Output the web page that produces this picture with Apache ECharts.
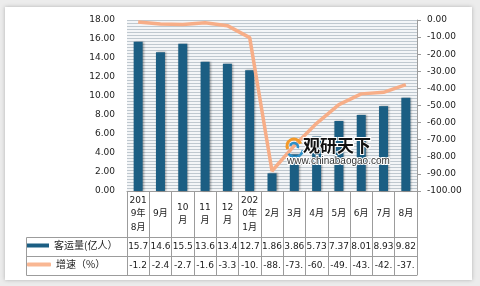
<!DOCTYPE html>
<html><head><meta charset="utf-8">
<script src="https://cdn.jsdelivr.net/npm/echarts@6/dist/echarts.min.js"></script>
<style>
html,body{margin:0;padding:0;background:#ececec;width:480px;height:286px;overflow:hidden}
#card{position:absolute;left:5px;top:7px;width:467px;height:273px;background:#fff;box-shadow:0 0 4px rgba(0,0,0,0.25)}
#c{position:absolute;left:0;top:0;width:480px;height:286px}
</style></head><body><div id="card"></div><div id="c"></div>
<script>
// ---- data ----
const categories = ['2019年8月','9月','10月','11月','12月','2020年1月','2月','3月','4月','5月','6月','7月','8月'];
const headerLabels = ['201\n9年\n8月','9月','10\n月','11\n月','12\n月','202\n0年\n1月','2月','3月','4月','5月','6月','7月','8月'];
const volumeName = '客运量(亿人）';
const growthName = '增速（%）';
const volume = [15.7,14.6,15.5,13.6,13.4,12.7,1.86,3.86,5.73,7.37,8.01,8.93,9.82];
const growth = [-1.2,-2.4,-2.7,-1.6,-3.3,-10.3,-88.3,-73.5,-60.4,-49.5,-43.2,-42.3,-37.8];
const leftAxis = {min:0, max:18, interval:2};
const rightAxis = {min:-100, max:0, interval:10};

// ---- chart ----
const border = '#9c9c9c';
const tableFont = {fontSize:9, fontFamily:'DejaVu Sans, Noto Sans CJK SC', color:'#1a1a1a'};
const cut = v => String(v).slice(0,4);

function tableAxis(offset, tickLen, fmt, margin) {
  return {
    type:'category', gridIndex:0, position:'bottom', offset, data:categories, boundaryGap:true,
    axisLine:{show:true, onZero:false, lineStyle:{color:border, width:1}},
    axisTick:{show:tickLen>0, length:tickLen, inside:false, interval:0, lineStyle:{color:border, width:1}},
    axisLabel:Object.assign({show:!!fmt, interval:0, margin:margin||0, verticalAlign:'middle', align:'center',
      lineHeight:13.5, formatter:fmt||''}, tableFont),
    splitLine:{show:false}, axisPointer:{show:false}
  };
}

const chart = echarts.init(document.getElementById('c'), null, {renderer:'canvas'});
const axisFont = {fontSize:9, fontFamily:'DejaVu Sans', color:'#222'};

chart.setOption({
  backgroundColor:'transparent',
  animation:false,
  grid:{left:127, top:20, width:290, height:171, show:true, backgroundColor:'#f3f5f7', borderWidth:0},
  legend:[
    {data:[volumeName], left:27, top:240.5, padding:0, itemWidth:22, itemHeight:4, icon:'rect',
     textStyle:{fontSize:10, fontFamily:'Noto Sans CJK SC', color:'#222'}},
    {data:[growthName], left:27, top:259.5, padding:0, itemWidth:24, itemHeight:4, icon:'roundRect',
     textStyle:{fontSize:10, fontFamily:'Noto Sans CJK SC', color:'#222'}}
  ],
  xAxis:[
    tableAxis(0, 46, (v,i)=>headerLabels[i], 23),
    tableAxis(46, 19, (v,i)=>cut(volume[i]), 9.5),
    tableAxis(65, 19, (v,i)=>cut(growth[i]), 9.5),
    tableAxis(84, 0, null, 0)
  ],
  yAxis:[
    {type:'value', position:'left', min:leftAxis.min, max:leftAxis.max, interval:leftAxis.interval,
     axisLine:{show:false}, axisTick:{show:false}, splitLine:{show:false},
     axisLabel:Object.assign({margin:12, formatter:v=>v.toFixed(2)}, axisFont)},
    {type:'value', position:'right', min:rightAxis.min, max:rightAxis.max, interval:rightAxis.interval,
     axisLine:{show:true, onZero:false, lineStyle:{color:border}}, axisTick:{show:true, length:4, inside:false, lineStyle:{color:border}},
     splitLine:{show:false},
     axisLabel:Object.assign({margin:10, formatter:v=>v.toFixed(2)}, axisFont)},
    {type:'value', position:'left', min:0, max:57, interval:1,
     axisLine:{show:false}, axisTick:{show:false}, axisLabel:{show:false},
     splitLine:{show:true, lineStyle:{color:'#bfc8cf', width:1}}}
  ],
  series:[
    {name:volumeName, type:'bar', xAxisIndex:0, yAxisIndex:0, data:volume, barWidth:9,
     itemStyle:{color:'#1b5e83', shadowColor:'rgba(0,0,0,0.35)', shadowBlur:2, shadowOffsetX:1, shadowOffsetY:0}},
    {name:growthName, type:'line', xAxisIndex:0, yAxisIndex:1, data:growth, showSymbol:false, symbol:'none',
     lineStyle:{color:'#f7ae88', width:3.5}, itemStyle:{color:'#f9b793'}, z:5}
  ],
  graphic:[
    {type:'polyline', shape:{points:[[127,237.5],[26.5,237.5],[26.5,275.5],[127,275.5]]}, style:{stroke:border, fill:null, lineWidth:1}, silent:true},
    {type:'line', shape:{x1:26.5, y1:256.5, x2:127, y2:256.5}, style:{stroke:border, lineWidth:1}, silent:true},
    // watermark
    {type:'arc', shape:{cx:294, cy:146, r:7, startAngle:Math.PI*0.85, endAngle:Math.PI*1.9}, style:{stroke:'#f39a2b', lineWidth:3, fill:null}, z:50, silent:true},
    {type:'arc', shape:{cx:294, cy:147, r:4, startAngle:Math.PI*1.1, endAngle:Math.PI*2.1}, style:{stroke:'#2b8fc8', lineWidth:2.5, fill:null}, z:50, silent:true},
    {type:'arc', shape:{cx:295, cy:149, r:8, startAngle:Math.PI*0.05, endAngle:Math.PI*0.8}, style:{stroke:'#2b8fc8', lineWidth:2.5, fill:null}, z:50, silent:true},
    {type:'text', left:302, top:136, z:50, silent:true,
     style:{text:'观研天下', font:'bold 17px "Noto Sans CJK SC"', fill:'#111', stroke:'#fff', lineWidth:2}},
    {type:'text', left:286, top:155, z:50, silent:true,
     style:{text:'www.chinabaogao.com', font:'10px "Liberation Sans"', fill:'#333', stroke:'#fff', lineWidth:2}}
  ]
});
</script></body></html>
